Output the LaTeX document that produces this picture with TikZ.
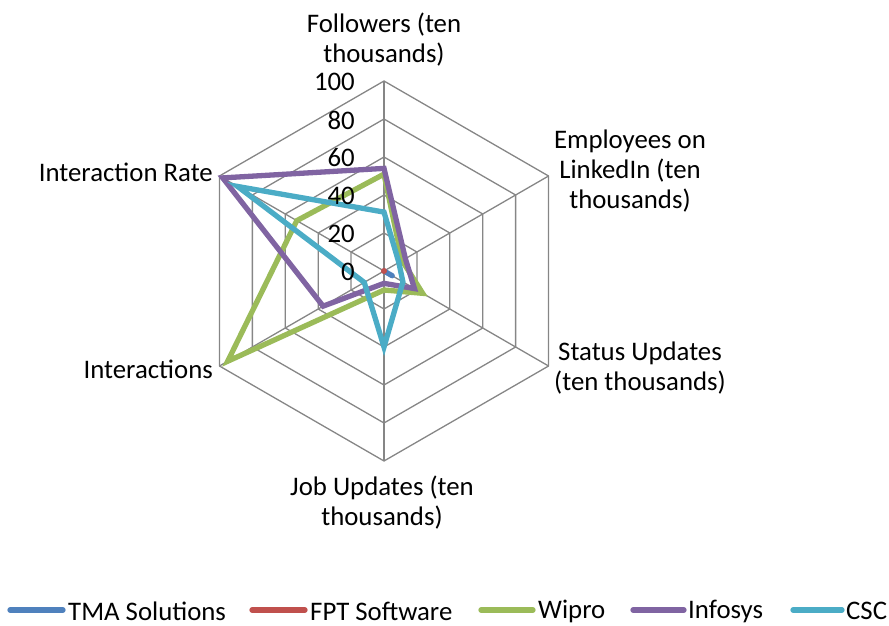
\documentclass[tikz,border=0pt]{standalone}
\usepackage{fontspec}
\setmainfont{Carlito}
\definecolor{gridgray}{RGB}{134,134,134}
\definecolor{tmablue}{RGB}{79,129,189}
\definecolor{fptred}{RGB}{192,80,77}
\definecolor{wiprogreen}{RGB}{155,187,89}
\definecolor{infopurple}{RGB}{128,100,162}
\definecolor{csccyan}{RGB}{75,172,198}
\begin{document}
\begin{tikzpicture}[x=1pt,y=1pt,
  gridline/.style={draw=gridgray, line width=1.3pt},
  series/.style={line width=5.3pt, line join=miter},
  lbl/.style={font=\fontsize{26.8}{30}\selectfont, inner sep=0pt, align=center},
  ticklbl/.style={font=\fontsize{26.8}{30}\selectfont, inner sep=0pt, anchor=east},
  legline/.style={line width=5.3pt, line cap=round},
  legtext/.style={font=\fontsize{26.8}{30}\selectfont, inner sep=0pt, anchor=west}]
\useasboundingbox (0,0) rectangle (889,625);
\coordinate (C) at (384,354);
\begin{scope}[shift={(C)}, scale=1.9]
  \foreach \r in {20,40,...,100}
    \draw[gridline] (90:\r) -- (30:\r) -- (-30:\r) -- (-90:\r) -- (210:\r) -- (150:\r) -- cycle;
  \foreach \a in {90,30,-30,-90,210,150}
    \draw[gridline] (0,0) -- (\a:100);
  % TMA Solutions
  \draw[series, tmablue, line cap=round] (0,0) -- (-30:5);
  % FPT Software
  \fill[fptred] (0,0) circle (1.6);
  % Wipro
  \draw[series, wiprogreen] (90:51) -- (30:11) -- (-30:23.5) -- (-90:10) -- (210:95) -- (150:53) -- cycle;
  % Infosys
  \draw[series, infopurple] (90:54) -- (30:13) -- (-30:18.5) -- (-90:6.5) -- (210:37) -- (150:98) -- cycle;
  % CSC
  \draw[series, csccyan] (90:31) -- (30:9) -- (-30:11.5) -- (-90:40) -- (210:12) -- (150:89) -- cycle;
\end{scope}
% tick labels
\foreach \v in {0,20,...,100}
  \node[ticklbl] (t\v) at (355,{353+1.9*\v}) {\v};
% axis labels
\node[lbl] (followers) at (384,585) {Followers (ten\\thousands)};
\node[lbl] (employees) at (630,454) {Employees on\\LinkedIn (ten\\thousands)};
\node[lbl] (status) at (640,257) {Status Updates\\(ten thousands)};
\node[lbl] (jobs) at (382,122) {Job Updates (ten\\thousands)};
\node[lbl, anchor=east] (rate) at (213,453) {Interaction Rate};
\node[lbl, anchor=east] (interactions) at (213,256) {Interactions};
% legend
\coordinate (l1a) at (10,15); \coordinate (l1b) at (63,15);
\coordinate (l2a) at (252,15); \coordinate (l2b) at (305,15);
\coordinate (l3a) at (481,15); \coordinate (l3b) at (533,15);
\coordinate (l4a) at (633,15); \coordinate (l4b) at (684,15);
\coordinate (l5a) at (793,15); \coordinate (l5b) at (842,15);
\draw[legline, tmablue] (l1a) -- (l1b);
\draw[legline, fptred] (l2a) -- (l2b);
\draw[legline, wiprogreen] (l3a) -- (l3b);
\draw[legline, infopurple] (l4a) -- (l4b);
\draw[legline, csccyan] (l5a) -- (l5b);
\node[legtext] (g1) at (68,14) {TMA Solutions};
\node[legtext] (g2) at (310,14) {FPT Software};
\node[legtext] (g3) at (538,14) {Wipro};
\node[legtext] (g4) at (688,14) {Infosys};
\node[legtext] (g5) at (846,14) {CSC};
\end{tikzpicture}
\end{document}
